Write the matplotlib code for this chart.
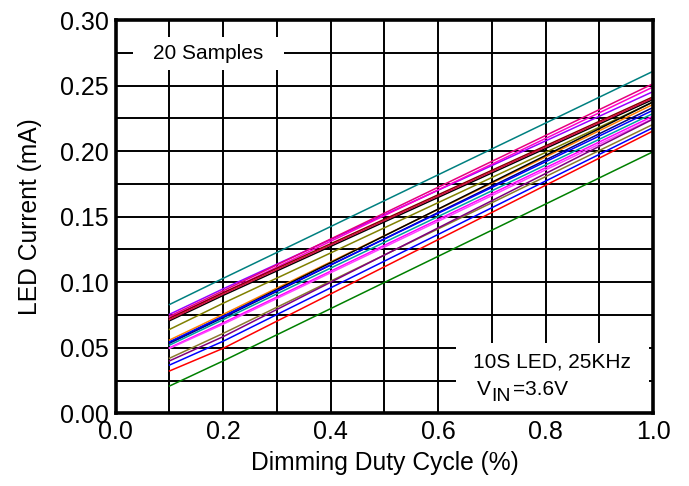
import matplotlib
matplotlib.use("Agg")
import matplotlib.pyplot as plt
from matplotlib.ticker import MultipleLocator

plt.rcParams['font.family'] = ['Liberation Sans', 'DejaVu Sans']

# duty cycle points
duty = [0.1, 0.2, 1.0]

# LED current (mA) for the 20 samples, values at duty = 0.1, 0.2, 1.0
s01 = [0.083, 0.103, 0.261]
s02 = [0.0755, 0.095, 0.2455]
s03 = [0.074, 0.0935, 0.2515]
s04 = [0.073, 0.092, 0.249]
s05 = [0.0725, 0.092, 0.2415]
s06 = [0.0706, 0.090, 0.2395]
s07 = [0.0715, 0.091, 0.2405]
s08 = [0.064, 0.084, 0.2375]
s09 = [0.0559, 0.0755, 0.2357]
s10 = [0.0541, 0.074, 0.2377]
s11 = [0.0534, 0.073, 0.2334]
s12 = [0.0545, 0.074, 0.2313]
s13 = [0.052, 0.0715, 0.2288]
s14 = [0.050, 0.069, 0.2268]
s15 = [0.0495, 0.068, 0.225]
s16 = [0.042, 0.061, 0.2205]
s17 = [0.040, 0.0585, 0.2245]
s18 = [0.0368, 0.055, 0.218]
s19 = [0.0323, 0.0496, 0.2155]
s20 = [0.0208, 0.040, 0.1996]

samples = [s01, s02, s03, s04, s05, s06, s07, s08, s09, s10,
           s11, s12, s13, s14, s15, s16, s17, s18, s19, s20]
colors = ['#008080', '#9900ff', '#e6007e', '#ff00cc', '#800000',
          '#000000', '#d01040', '#808000', '#ff8000', '#000000',
          '#000080', '#0000ff', '#00a0a0', '#ff00ff', '#ff44ff',
          '#8c7a2e', '#800080', '#0000ff', '#ff0000', '#008000']

xticks = [0.0, 0.2, 0.4, 0.6, 0.8, 1.0]
yticks = [0.00, 0.05, 0.10, 0.15, 0.20, 0.25, 0.30]

fig = plt.figure(figsize=(6.89, 4.86), dpi=100)
ax = fig.add_axes([0.168, 0.1496, 0.78, 0.809])

for vals, c in zip(samples, colors):
    ax.plot(duty, vals, color=c, linewidth=1.1, zorder=3)

ax.set_xlim(0, 1.0)
ax.set_ylim(0, 0.30)
ax.set_xticks(xticks)
ax.set_yticks(yticks)
ax.set_xticklabels(['%.1f' % v for v in xticks])
ax.set_yticklabels(['%.2f' % v for v in yticks])
ax.xaxis.set_minor_locator(MultipleLocator(0.1))
ax.yaxis.set_minor_locator(MultipleLocator(0.025))
ax.grid(True, which='both', color='black', linewidth=1.4, zorder=1)
ax.set_axisbelow(True)
ax.tick_params(which='both', length=0, labelsize=18, pad=5)

for sp in ax.spines.values():
    sp.set_linewidth(2.6)
    sp.set_zorder(5)

ax.set_xlabel('Dimming Duty Cycle (%)', fontsize=17.7, labelpad=5)
ax.set_ylabel('LED Current (mA)', fontsize=17.7, labelpad=13)

# white boxes behind the notes
ax.add_patch(plt.Rectangle((0.032, 0.262), 0.281, 0.025, facecolor='white',
                           edgecolor='none', zorder=2))
ax.text(0.172, 0.2745, '20 Samples', fontsize=15, ha='center', va='center', zorder=4)

ax.add_patch(plt.Rectangle((0.633, 0.0), 0.36, 0.0535, facecolor='white',
                           edgecolor='none', zorder=2))
ax.text(0.665, 0.0350, '10S LED, 25KHz', fontsize=15, ha='left', va='baseline', zorder=4)
# V with a large "IN" subscript, as in the datasheet
ax.text(0.672, 0.0140, 'V', fontsize=15, ha='left', va='baseline', zorder=4)
ax.text(0.6995, 0.0090, 'IN', fontsize=14, ha='left', va='baseline', zorder=4)
ax.text(0.7385, 0.0140, '=3.6V', fontsize=15, ha='left', va='baseline', zorder=4)

fig.savefig('out.png', dpi=100)
